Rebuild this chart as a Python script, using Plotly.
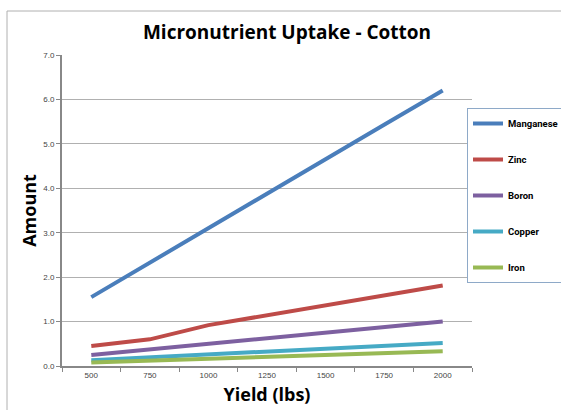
import plotly.graph_objects as go

yields = ["500", "750", "1000", "1250", "1500", "1750", "2000"]
manganese = [1.55, 2.33, 3.10, 3.88, 4.65, 5.43, 6.20]
zinc = [0.45, 0.60, 0.92, 1.14, 1.37, 1.59, 1.81]
boron = [0.25, 0.375, 0.50, 0.625, 0.75, 0.875, 1.00]
copper = [0.13, 0.195, 0.26, 0.325, 0.39, 0.455, 0.52]
iron = [0.08, 0.12, 0.16, 0.20, 0.25, 0.29, 0.33]

series = [
    ("Manganese", manganese, "#4A7EBB"),
    ("Zinc", zinc, "#BE4B48"),
    ("Boron", boron, "#7D60A0"),
    ("Copper", copper, "#46AAC5"),
    ("Iron", iron, "#98B954"),
]

fig = go.Figure()
for i, (name, vals, color) in enumerate(series):
    fig.add_trace(go.Scatter(
        x=yields, y=vals, name="<b>%s</b>" % name, mode="lines",
        line=dict(color=color, width=4),
        legendgroup=name,
    ))

W, H = 561, 410
ml, mr, mt, mb = 62, 89, 55, 44
pw, ph = W - ml - mr, H - mt - mb

fig.update_layout(
    width=W, height=H,
    margin=dict(l=ml, r=mr, t=mt, b=mb, autoexpand=False),
    paper_bgcolor="white", plot_bgcolor="white",
    font=dict(family="Liberation Sans, Arial, sans-serif", color="#000"),
    title=dict(text="<b>Micronutrient Uptake - Cotton</b>",
               x=287 / W, xanchor="center", xref="container",
               y=1 - 32 / H, yanchor="middle", yref="container",
               font=dict(size=19, family="Open Sans, Liberation Sans, sans-serif")),
    xaxis=dict(
        type="category", tickson="boundaries", ticks="outside", ticklen=4,
        tickcolor="#888", tickwidth=1,
        showline=True, linecolor="#888", linewidth=2,
        showgrid=False, tickfont=dict(size=8, color="#444"),
        title=dict(text="<b>Yield (lbs)</b>", standoff=10,
                   font=dict(size=18, family="Open Sans, Liberation Sans, sans-serif")),
        range=[-0.5, 6.5], automargin=False,
    ),
    yaxis=dict(
        range=[0, 7], dtick=1, tickformat=".1f", ticks="outside", ticklen=4,
        tickcolor="#888", tickwidth=1,
        showline=True, linecolor="#888", linewidth=2,
        showgrid=True, gridcolor="#b0b0b0", gridwidth=1, zeroline=False,
        tickfont=dict(size=8, color="#444"),
        title=dict(text="<b>Amount</b>", standoff=2,
                   font=dict(size=18, family="Open Sans, Liberation Sans, sans-serif")),
        automargin=False,
    ),
    legend=dict(
        x=(467 - ml) / pw, xanchor="left",
        y=(H - mb - 108) / ph, yanchor="top",
        bordercolor="#8EA9C8", borderwidth=1, bgcolor="white",
        font=dict(size=9.5, family="Roboto, sans-serif"),
        traceorder="grouped", tracegroupgap=17, itemwidth=30,
    ),
    showlegend=True,
)

# outer chart border (top and left visible)
fig.add_shape(type="line", xref="paper", yref="paper",
              x0=(7 - ml) / pw, x1=1.3,
              y0=(H - mb - 11) / ph, y1=(H - mb - 11) / ph,
              line=dict(color="#b0b0b0", width=1))
fig.add_shape(type="line", xref="paper", yref="paper",
              x0=(7 - ml) / pw, x1=(7 - ml) / pw,
              y0=-0.3, y1=(H - mb - 11) / ph,
              line=dict(color="#b0b0b0", width=1))

fig.write_html("out.html", config={"displayModeBar": False},
               post_script="document.body.style.margin='0';")
